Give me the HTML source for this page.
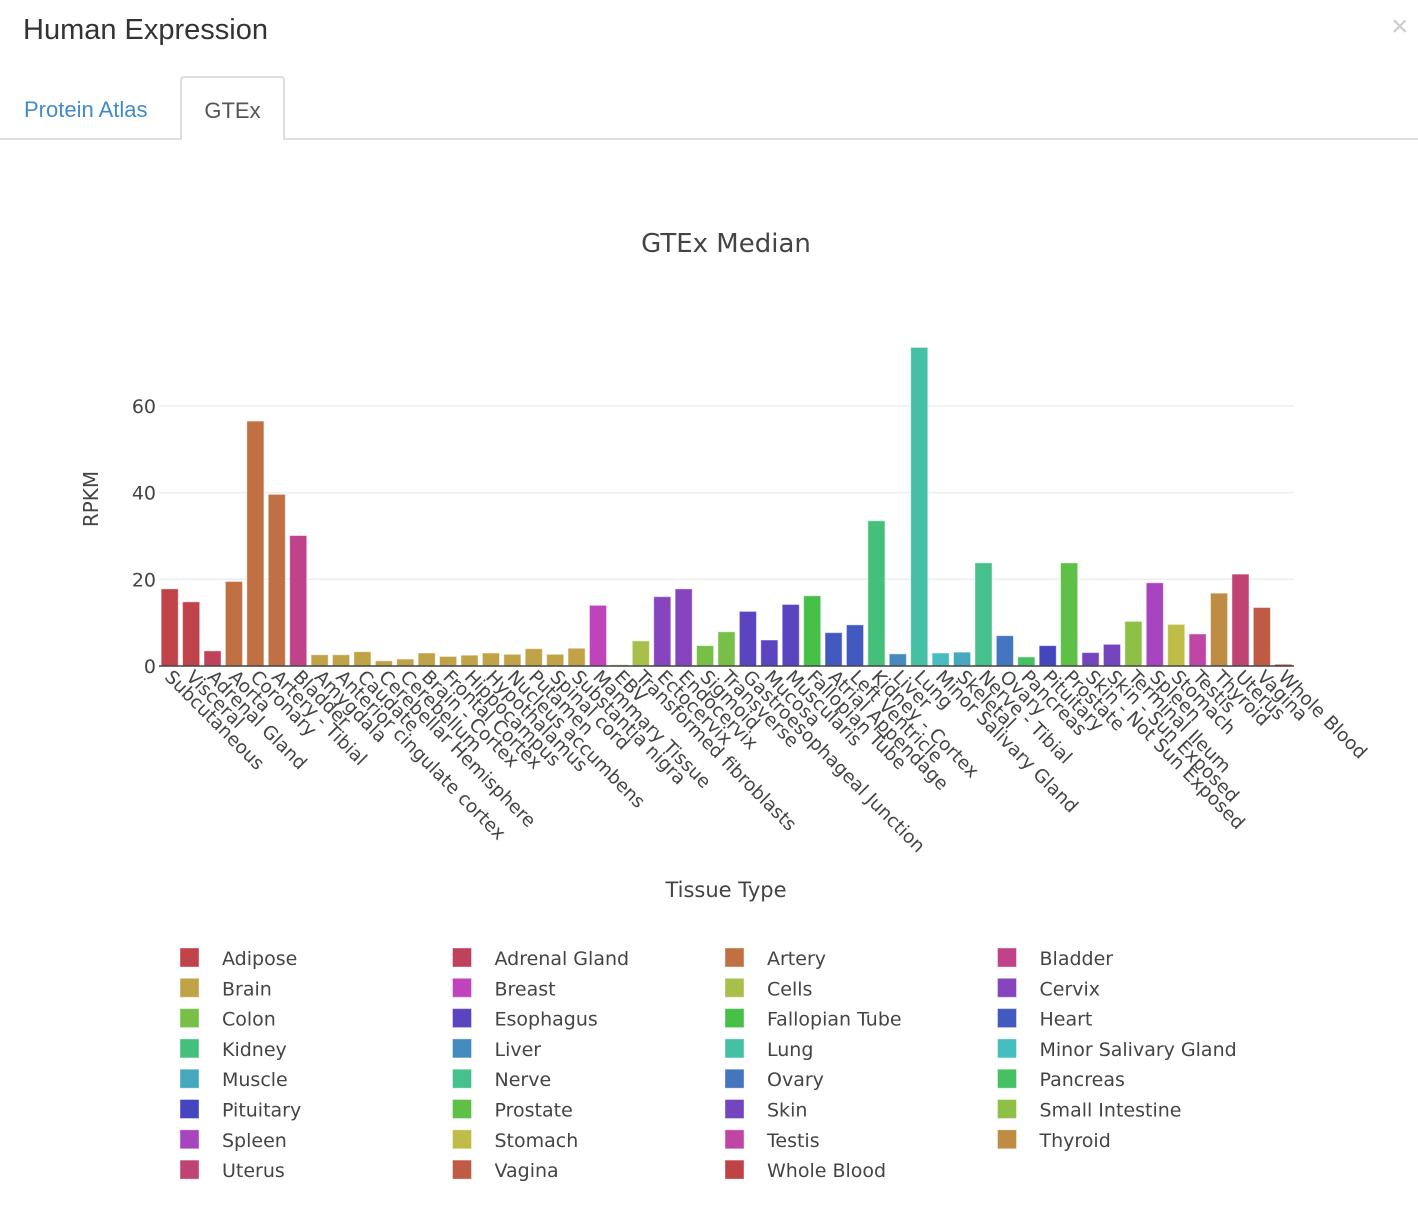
<!DOCTYPE html>
<html><head><meta charset="utf-8">
<style>
body{margin:0;width:1418px;height:1224px;background:#fff;overflow:hidden;font-family:"Liberation Sans",sans-serif;position:relative}
.hdr{position:absolute;left:23px;top:14px;font-size:29px;color:#333}
.close{position:absolute;left:1391px;top:10px;font-size:30px;color:#ccc}
.tabline{position:absolute;left:0;top:138px;width:1418px;height:2px;background:#ddd}
.tab1{position:absolute;left:24px;top:97px;font-size:22px;color:#428bca}
.tab2{position:absolute;left:180px;top:76px;width:105px;height:64px;border:2px solid #ddd;border-bottom:none;background:#fff;border-radius:4px 4px 0 0;box-sizing:border-box;text-align:center;line-height:66px;font-size:22px;color:#555}
svg{position:absolute;left:0;top:0}
svg text{font-family:"DejaVu Sans",sans-serif;fill:#444}
</style></head><body>
<div class="hdr">Human Expression</div>
<div class="close">×</div>
<div class="tabline"></div>
<div class="tab1">Protein Atlas</div>
<div class="tab2">GTEx</div>
<svg id="chart" width="1418" height="1224"></svg>
<script>
const labels=["Subcutaneous","Visceral","Adrenal Gland","Aorta","Coronary","Artery - Tibial","Bladder","Amygdala","Anterior cingulate cortex","Caudate","Cerebellar Hemisphere","Cerebellum","Brain - Cortex","Frontal Cortex","Hippocampus","Hypothalamus","Nucleus accumbens","Putamen","Spinal cord","Substantia nigra","Mammary Tissue","EBV","Transformed fibroblasts","Ectocervix","Endocervix","Sigmoid","Transverse","Gastroesophageal Junction","Mucosa","Muscularis","Fallopian Tube","Atrial Appendage","Left Ventricle","Kidney - Cortex","Liver","Lung","Minor Salivary Gland","Skeletal","Nerve - Tibial","Ovary","Pancreas","Pituitary","Prostate","Skin - Not Sun Exposed","Skin - Sun Exposed","Terminal Ileum","Spleen","Stomach","Testis","Thyroid","Uterus","Vagina","Whole Blood"];
const groups=["Adipose","Adipose","Adrenal Gland","Artery","Artery","Artery","Bladder","Brain","Brain","Brain","Brain","Brain","Brain","Brain","Brain","Brain","Brain","Brain","Brain","Brain","Breast","Cells","Cells","Cervix","Cervix","Colon","Colon","Esophagus","Esophagus","Esophagus","Fallopian Tube","Heart","Heart","Kidney","Liver","Lung","Minor Salivary Gland","Muscle","Nerve","Ovary","Pancreas","Pituitary","Prostate","Skin","Skin","Small Intestine","Spleen","Stomach","Testis","Thyroid","Uterus","Vagina","Whole Blood"];
const values=[17.8,14.8,3.5,19.5,56.5,39.6,30.1,2.6,2.6,3.3,1.2,1.6,3.0,2.2,2.5,3.0,2.7,4.0,2.7,4.1,14.0,0.3,5.8,16.0,17.8,4.7,7.9,12.6,6.0,14.2,16.2,7.7,9.5,33.5,2.8,73.5,3.0,3.2,23.8,7.0,2.1,4.7,23.8,3.1,5.0,10.3,19.2,9.6,7.4,16.8,21.2,13.5,0.4];
const legendNames=["Adipose","Adrenal Gland","Artery","Bladder","Brain","Breast","Cells","Cervix","Colon","Esophagus","Fallopian Tube","Heart","Kidney","Liver","Lung","Minor Salivary Gland","Muscle","Nerve","Ovary","Pancreas","Pituitary","Prostate","Skin","Small Intestine","Spleen","Stomach","Testis","Thyroid","Uterus","Vagina","Whole Blood"];
const legendColors=["#c0434a","#c0415b","#c07043","#c04389","#c0a346","#bf44bb","#a8c04b","#8744bf","#78bf47","#5a44bf","#47c047","#425abf","#45c07a","#448abf","#46c0a5","#46bdbf","#46a7bf","#46c08c","#4475bf","#46c063","#4346bf","#5fc047","#7544bf","#8ebf47","#a744bf","#bfbc47","#bf46a5","#bf8c44","#bf4473","#bf5b44","#bf4345"];
const yTicks=[0,20,40,60];
const NS="http://www.w3.org/2000/svg";
const svg=document.getElementById('chart');
const X0=159,X1=1294,Y0=666,PXU=4.335;
const step=(X1-X0)/labels.length;
function xs(i){return X0+i*step;}
function ys(v){return Y0-v*PXU;}
function mk(t,a){const e=document.createElementNS(NS,t);for(const k in a)e.setAttribute(k,a[k]);svg.appendChild(e);return e;}
yTicks.forEach(v=>{
 if(v>0){const g=mk('line',{x1:X0,x2:X1,y1:ys(v),y2:ys(v),stroke:'#eee','stroke-width':1.5});
 
 }
 const t=mk('text',{x:X0-3,y:ys(v)+7,'text-anchor':'end','font-size':19});t.textContent=v;
 
 
});
values.forEach((v,i)=>{
 const c=legendColors[legendNames.indexOf(groups[i])];
 const r=mk('rect',{x:xs(i)+step*0.1,y:ys(v),width:step*0.8,height:v*PXU,fill:c,stroke:'rgba(255,255,255,0.5)','stroke-width':1});
 
 
 const cx=xs(i)+step/2;
 const t=mk('text',{x:0,y:0,'font-size':18.5,transform:`translate(${cx-6},${Y0+12}) rotate(45)`});
 t.textContent=labels[i];
 
 
});
const ax=mk('line',{x1:X0,x2:X1,y1:Y0,y2:Y0,stroke:'#444','stroke-width':1.5});


const tt=mk('text',{x:726,y:252,'text-anchor':'middle','font-size':26});tt.textContent='GTEx Median';


const yt=mk('text',{x:0,y:0,'text-anchor':'middle','font-size':20,transform:'translate(98,499) rotate(-90)'});yt.textContent='RPKM';


const xt=mk('text',{x:726,y:897,'text-anchor':'middle','font-size':21});xt.textContent='Tissue Type';


legendNames.forEach((n,i)=>{
 const col=i%4,row=Math.floor(i/4);
 const lx=180+col*272.5,ly=948+row*30.3;
 const r=mk('rect',{x:lx,y:ly,width:19,height:19,fill:legendColors[i],stroke:'rgba(255,255,255,0.4)'});
 
 
 const t=mk('text',{x:lx+42,y:ly+17,'font-size':19});t.textContent=n;
 
 
});
</script>
</body></html>
